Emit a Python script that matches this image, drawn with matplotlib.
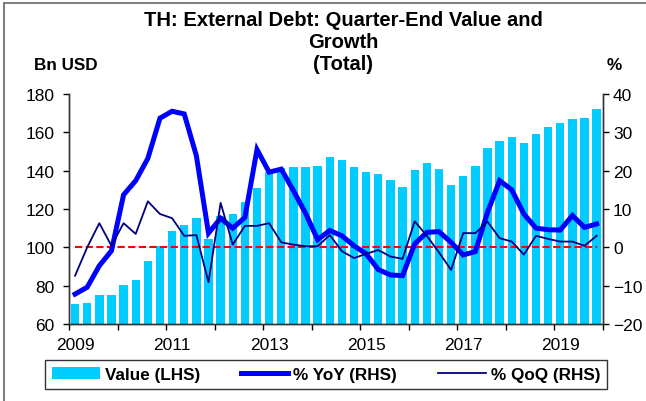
import matplotlib

matplotlib.use("Agg")
import matplotlib.pyplot as plt  # noqa: E402
import numpy as np  # noqa: E402
from matplotlib.patches import Rectangle  # noqa: E402

plt.rcParams["font.family"] = ["Liberation Sans", "DejaVu Sans"]

# quarterly data, 2009Q1 .. 2019Q4
value_bn = [
    70.4, 70.8, 75.2, 75.3, 80.4, 83.0, 92.9, 100.7, 108.5, 111.7, 115.1,
    104.4, 116.5, 117.2, 123.7, 131.0, 139.2, 141.2, 141.8, 142.1, 142.4,
    147.2, 145.8, 141.8, 139.3, 138.3, 135.3, 131.3, 140.4, 143.8, 140.9,
    132.3, 137.1, 142.3, 151.8, 155.5, 157.7, 154.4, 159.1, 162.6, 164.9,
    166.8, 167.3, 172.3,
]
yoy_pct = [
    -12.2, -10.4, -4.8, -0.9, 13.7, 17.4, 23.2, 33.7, 35.5, 34.8, 23.9,
    3.7, 7.6, 5.0, 7.8, 25.5, 19.6, 20.4, 14.8, 8.9, 2.0, 4.4, 3.0, 0.4,
    -1.7, -5.8, -7.2, -7.4, 0.9, 3.9, 4.1, 1.3, -2.0, -1.1, 9.1, 17.4,
    15.0, 8.7, 5.0, 4.6, 4.5, 8.3, 5.2, 6.1,
]
qoq_pct = [
    -7.4, 0.0, 6.3, 0.4, 6.3, 3.5, 12.0, 8.7, 7.6, 3.0, 3.2, -9.1, 11.6,
    0.7, 5.6, 5.6, 6.3, 1.3, 0.7, 0.3, 0.3, 3.2, -1.0, -2.8, -1.7, -0.7,
    -2.4, -3.0, 6.8, 3.0, -1.3, -5.9, 3.7, 3.7, 6.7, 2.4, 1.5, -1.9, 3.0,
    2.2, 1.5, 1.5, 0.4, 3.0,
]
start_year = 2009
year_labels = ["2009", "2011", "2013", "2015", "2017", "2019"]

W, H = 646, 402
fig = plt.figure(figsize=(W / 100, H / 100), dpi=100)
ax = fig.add_axes([69 / W, 1 - 325 / H, (602.7 - 69) / W, 230 / H])
ax2 = ax.twinx()

x = np.arange(len(value_bn)) + 0.5
ax.bar(x, value_bn, width=0.69, color="#00CCFF", label="Value (LHS)", zorder=2)
ax2.plot([x[0], x[-1]], [0, 0], color="red", lw=1.5, dashes=(3.5, 1.6), zorder=1)
ax2.plot(x, yoy_pct, color="#0000FF", lw=3.6, label="% YoY (RHS)",
         solid_joinstyle="miter", zorder=2)
ax2.plot(x, qoq_pct, color="#000080", lw=1.3, label="% QoQ (RHS)", zorder=3)

ax.set_xlim(0, len(value_bn))
ax.set_ylim(60, 180)
ax.set_yticks(np.arange(60, 181, 20))
ax2.set_ylim(-20, 40)
ax2.set_yticks(np.arange(-20, 41, 10))

n_years = len(value_bn) // 4
ax.set_xticks(np.arange(0, n_years * 4 + 1, 4))
ax.set_xticklabels([])
ax.set_xticks([4 * (int(y) - start_year) + 0.5 for y in year_labels], minor=True)
ax.set_xticklabels(year_labels, minor=True)
ax.tick_params(axis="x", which="minor", length=0, pad=9, labelsize=12.5)
ax.tick_params(axis="x", which="major", direction="out", length=4.5, width=1)
ax.tick_params(axis="y", direction="out", length=4.5, width=1, pad=6, labelsize=12.5)
ax2.tick_params(axis="y", direction="out", length=4.5, width=1, pad=3, labelsize=12.5)

for a in (ax, ax2):
    a.spines["top"].set_visible(False)
    for s in ("left", "right", "bottom"):
        a.spines[s].set_color("#333333")
        a.spines[s].set_linewidth(1)

fig.text(343 / W, 1 - 42 / H, "TH: External Debt: Quarter-End Value and\nGrowth\n(Total)",
         ha="center", va="center", fontsize=14.5, fontweight="bold", linespacing=1.2)
fig.text(66 / W, 1 - 66 / H, "Bn USD", ha="center", va="center",
         fontsize=12.3, fontweight="bold")
fig.text(614 / W, 1 - 66 / H, "%", ha="center", va="center",
         fontsize=12.3, fontweight="bold")

h1, l1 = ax.get_legend_handles_labels()
h2, l2 = ax2.get_legend_handles_labels()
leg = fig.legend(
    h1 + h2, l1 + l2,
    loc="center", ncol=3, mode="expand",
    bbox_to_anchor=(45 / W, 1 - 392 / H, 562 / W, 33 / H),
    prop={"weight": "bold", "size": 12.3},
    handlelength=2.8, handletextpad=0.3, columnspacing=0.9,
    frameon=True, fancybox=False, borderaxespad=0,
)
leg.get_frame().set_edgecolor("black")
leg.get_frame().set_linewidth(1)

# grey outer border (left and top edges visible in the source image)
fig.patches.append(Rectangle((4 / W, -0.1), 1.2, 1.1 - 4 / H, transform=fig.transFigure,
                             fill=False, edgecolor="#808080", lw=1.5))

fig.savefig("out.png", dpi=100)
